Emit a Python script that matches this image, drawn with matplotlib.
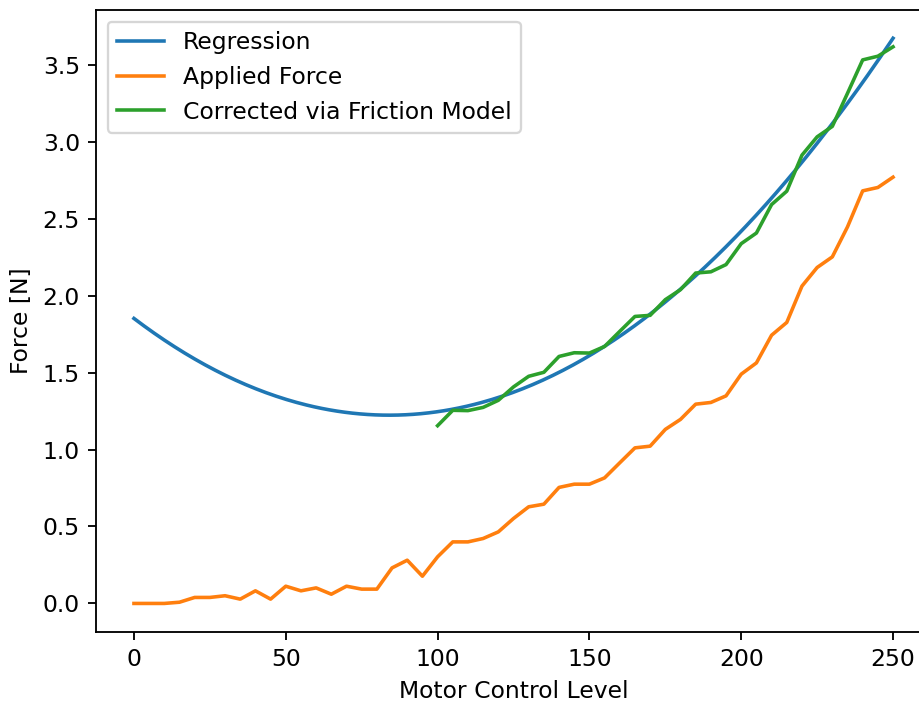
import numpy as np
import matplotlib
matplotlib.use("Agg")
import matplotlib.pyplot as plt

# motor control levels, step 5
level = np.arange(0, 255, 5)

# measured applied force [N]
applied_force = [
    0.0, 0.0, 0.0, 0.008, 0.039, 0.039, 0.05, 0.028, 0.082, 0.028,
    0.112, 0.082, 0.101, 0.06, 0.112, 0.093, 0.093, 0.231, 0.281, 0.177,
    0.303, 0.40, 0.40, 0.422, 0.465, 0.552, 0.628, 0.645, 0.754, 0.775,
    0.775, 0.816, 0.914, 1.011, 1.022, 1.131, 1.196, 1.295, 1.306, 1.349,
    1.49, 1.563, 1.743, 1.826, 2.062, 2.183, 2.252, 2.447, 2.681, 2.703,
    2.77,
]

# friction-corrected force, only from level 100 on
corrected_level = np.arange(100, 255, 5)
corrected_force = [
    1.155, 1.255, 1.253, 1.274, 1.32, 1.407, 1.476, 1.502, 1.605, 1.629,
    1.627, 1.67, 1.768, 1.865, 1.872, 1.974, 2.039, 2.147, 2.155, 2.202,
    2.338, 2.407, 2.592, 2.679, 2.913, 3.032, 3.10, 3.315, 3.532, 3.556,
    3.617,
]

# quadratic regression coefficients (c0 + c1*x + c2*x^2)
reg_coef = [1.852, -0.014955, 8.895e-5]

plt.rcParams['font.size'] = 10.2
plt.rcParams['lines.linewidth'] = 1.55

dpi = 166
fig = plt.figure(figsize=(920 / dpi, 702 / dpi), dpi=dpi)
ax = fig.add_axes([96 / 920, 70.3 / 702, 835 / 920, 621.7 / 702])

x_fit = np.linspace(0, 250, 300)
y_fit = reg_coef[0] + reg_coef[1] * x_fit + reg_coef[2] * x_fit**2

ax.plot(x_fit, y_fit, label="Regression")
ax.plot(level, applied_force, label="Applied Force")
ax.plot(corrected_level, corrected_force, label="Corrected via Friction Model")

ax.set_xlabel("Motor Control Level")
ax.set_ylabel("Force [N]")
ax.legend(loc="upper left")

fig.savefig("out.png", dpi=dpi)
